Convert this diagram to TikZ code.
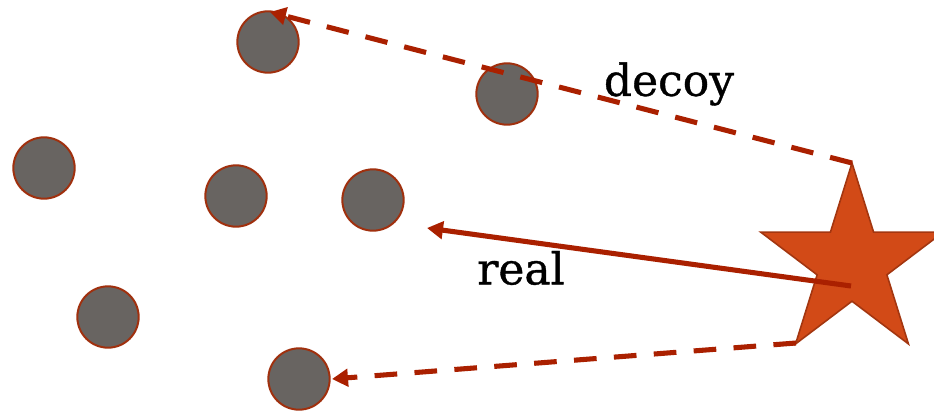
\documentclass[tikz,border=0pt]{standalone}
\usepackage{fontspec}
\setmainfont{DejaVu Serif}[FakeBold=0.8]
\usetikzlibrary{arrows.meta}
\definecolor{dotfill}{RGB}{104,100,97}
\definecolor{dotline}{RGB}{160,48,14}
\definecolor{starfill}{RGB}{210,74,23}
\definecolor{starline}{RGB}{163,54,16}
\definecolor{arrowc}{RGB}{170,32,0}
\tikzset{
  dot/.style={circle, draw=dotline, fill=dotfill, line width=1.5pt, minimum size=46pt, inner sep=0pt},
  link/.style={draw=arrowc, line width=3.8pt, -{Triangle[length=12pt,width=13pt]}},
  dashlink/.style={link, dash pattern=on 17pt off 13pt},
  lbl/.style={font=\fontsize{33}{33}\selectfont, inner sep=0pt}
}
\begin{document}
\begin{tikzpicture}[x=0.75pt,y=-0.75pt]
\useasboundingbox (0,0) rectangle (934,414);
\node[dot] (c1) at (268,42) {};
\node[dot] (c2) at (507,94) {};
\node[dot] (c3) at (44,168) {};
\node[dot] (c4) at (236,196) {};
\node[dot] (c5) at (373,200) {};
\node[dot] (c6) at (108,317) {};
\node[dot] (c7) at (299,379) {};
% star
\def\cx{852}\def\cy{263}
\fill[starfill, draw=starline, line width=1.2pt]
  ({\cx+0},{\cy-100}) --
  ({\cx+38.2*cos(54)*0.96},{\cy-38.2*sin(54)}) --
  ({\cx+100*cos(18)*0.96},{\cy-100*sin(18)}) --
  ({\cx+38.2*cos(18)*0.96},{\cy+38.2*sin(18)}) --
  ({\cx+100*cos(54)*0.96},{\cy+100*sin(54)}) --
  ({\cx+0},{\cy+38.2}) --
  ({\cx-100*cos(54)*0.96},{\cy+100*sin(54)}) --
  ({\cx-38.2*cos(18)*0.96},{\cy+38.2*sin(18)}) --
  ({\cx-100*cos(18)*0.96},{\cy-100*sin(18)}) --
  ({\cx-38.2*cos(54)*0.96},{\cy-38.2*sin(54)}) -- cycle;
\coordinate (stop) at (852,163);
\coordinate (smid) at (851,286);
\coordinate (sbot) at (796,343);
\coordinate (t1) at (270,12);
\coordinate (t2) at (427,228);
\coordinate (t3) at (332,379);
\draw[dashlink] (stop) -- (t1);
\draw[link] (smid) -- (t2);
\draw[dashlink] (sbot) -- (t3);
\node[lbl] (decoy) at (669,84) {decoy};
\node[lbl] (real) at (521,268) {real};
\end{tikzpicture}
\end{document}
